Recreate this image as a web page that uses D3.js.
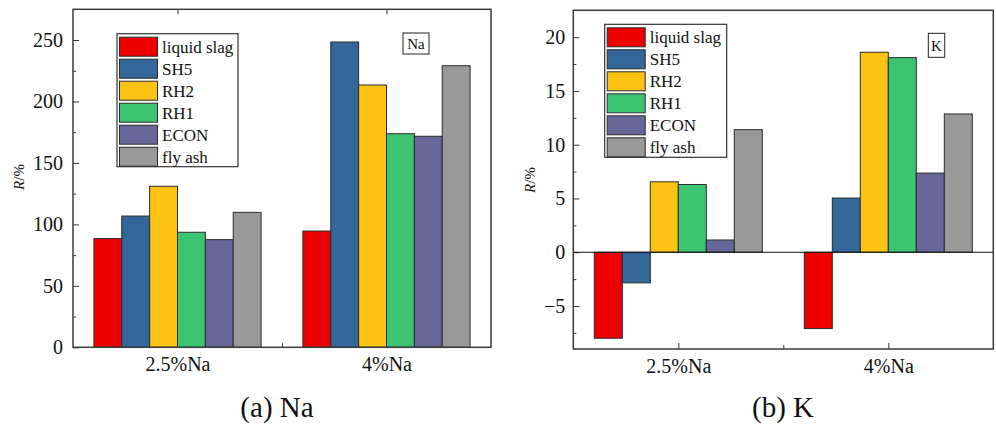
<!DOCTYPE html>
<html>
<head>
<meta charset="utf-8">
<script src="https://cdn.jsdelivr.net/npm/d3@7"></script>
<style>
  body { margin: 0; background: #fff; }
  svg { display: block; }
</style>
</head>
<body>
<div id="chart"></div>
<script>
// data
var categories = ["2.5%Na", "4%Na"];
var seriesNames = ["liquid slag", "SH5", "RH2", "RH1", "ECON", "fly ash"];
var seriesColors = ["#ee0000", "#336699", "#fdc314", "#3cc471", "#666699", "#999999"];
// one row per category, one value per series
var naValues = [
  [88.4, 106.8, 131.0, 93.6, 87.6, 109.8],
  [94.6, 248.4, 213.4, 173.8, 171.7, 229.1]
];
var kValues = [
  [-8.0, -2.85, 6.55, 6.3, 1.14, 11.4],
  [-7.1, 5.04, 18.6, 18.1, 7.36, 12.86]
];
var naTicks = [0, 50, 100, 150, 200, 250];
var naMinor = [25, 75, 125, 175, 225];
var kTicks = [-5, 0, 5, 10, 15, 20];
var kMinor = [-7.5, -2.5, 2.5, 7.5, 12.5, 17.5];

var w = 996, h = 428;
var FONT = "Liberation Serif";

var svg = d3.select("#chart")
  .append("svg")
  .attr("width", w)
  .attr("height", h)
  .attr("font-family", FONT);

svg.append("rect").attr("width", w).attr("height", h).attr("fill", "#fff");

function drawPanel(p) {
  var g = svg.append("g");

  var xScale = d3.scaleLinear()
    .domain([0.5, categories.length + 0.5])
    .range([p.left, p.right]);
  var yScale = d3.scaleLinear()
    .domain(p.yDomain)
    .range([p.bottom, p.top]);

  var barW = 0.8 / seriesNames.length;

  // left axis
  var yAxis = d3.axisLeft(yScale)
    .tickValues(p.ticks)
    .tickSizeInner(-6)
    .tickSizeOuter(0)
    .tickPadding(p.tickPad);
  var ya = g.append("g")
    .attr("transform", "translate(" + p.left + ",0)")
    .call(yAxis)
    .attr("font-family", FONT);
  ya.select(".domain").remove();
  ya.selectAll("text").attr("font-size", 20).attr("fill", "#111")
    .attr("font-family", FONT);
  ya.selectAll("line").attr("stroke", "#333");

  var yMinor = g.append("g")
    .attr("transform", "translate(" + p.left + ",0)")
    .call(d3.axisLeft(yScale).tickValues(p.minor).tickSizeInner(-3).tickSizeOuter(0).tickFormat(""));
  yMinor.select(".domain").remove();
  yMinor.selectAll("line").attr("stroke", "#333");

  // bottom axis
  var xAxis = d3.axisBottom(xScale)
    .tickValues(d3.range(1, categories.length + 1))
    .tickFormat(function(d) { return categories[d - 1]; })
    .tickSizeInner(-6)
    .tickSizeOuter(0)
    .tickPadding(10);
  var xa = g.append("g")
    .attr("transform", "translate(0," + p.bottom + ")")
    .call(xAxis)
    .attr("font-family", FONT);
  xa.select(".domain").remove();
  xa.selectAll("text").attr("font-size", 20).attr("fill", "#111")
    .attr("font-family", FONT);
  xa.selectAll("line").attr("stroke", "#333");

  var xMinor = g.append("g")
    .attr("transform", "translate(0," + p.bottom + ")")
    .call(d3.axisBottom(xScale).tickValues([1.5]).tickSizeInner(-4).tickSizeOuter(0).tickFormat(""));
  xMinor.select(".domain").remove();
  xMinor.selectAll("line").attr("stroke", "#333");

  if (p.topTicks) {
    var xt = g.append("g")
      .attr("transform", "translate(0," + p.top + ")")
      .call(d3.axisTop(xScale).tickValues(d3.range(1, categories.length + 1)).tickSizeInner(-5).tickSizeOuter(0).tickFormat(""));
    xt.select(".domain").remove();
    xt.selectAll("line").attr("stroke", "#333");
  }

  // bars
  p.values.forEach(function(row, ci) {
    g.selectAll("rect.c" + ci)
      .data(row)
      .enter()
      .append("rect")
      .attr("class", "c" + ci)
      .attr("x", function(d, i) { return xScale(ci + 1 - 0.4 + i * barW); })
      .attr("width", function() { return xScale(barW) - xScale(0); })
      .attr("y", function(d) { return yScale(Math.max(0, d)); })
      .attr("height", function(d) { return Math.abs(yScale(d) - yScale(0)); })
      .attr("fill", function(d, i) { return seriesColors[i]; })
      .attr("stroke", "#2b2b2b")
      .attr("stroke-width", 1);
  });

  if (p.zeroLine) {
    g.append("line")
      .attr("x1", p.left).attr("x2", p.right)
      .attr("y1", yScale(0)).attr("y2", yScale(0))
      .attr("stroke", "#111").attr("stroke-width", 1.2);
  }

  // frame
  g.append("rect")
    .attr("x", p.left).attr("y", p.top)
    .attr("width", p.right - p.left).attr("height", p.bottom - p.top)
    .attr("fill", "none")
    .attr("stroke", "#3a3a3a")
    .attr("stroke-width", 1.5);

  // y title
  var yt = g.append("text")
    .attr("transform", "translate(" + p.yTitleX + "," + p.yTitleY + ") rotate(-90)")
    .attr("text-anchor", "middle")
    .attr("dy", "0.35em")
    .attr("font-size", 15)
    .attr("font-family", FONT)
    .attr("fill", "#111");
  yt.append("tspan").attr("font-style", "italic").text("R");
  yt.append("tspan").text("/%");

  // legend
  var lg = g.append("g");
  lg.append("rect")
    .attr("x", p.legX).attr("y", p.legY)
    .attr("width", p.legW).attr("height", 133)
    .attr("fill", "#fff")
    .attr("stroke", "#333")
    .attr("stroke-width", 1.2);
  seriesNames.forEach(function(name, i) {
    lg.append("rect")
      .attr("x", p.legX + 2.5).attr("y", p.legY + 3.5 + i * 22)
      .attr("width", 38).attr("height", 19)
      .attr("fill", seriesColors[i])
      .attr("stroke", "#2b2b2b")
      .attr("stroke-width", 1);
    lg.append("text")
      .attr("x", p.legX + 45).attr("y", p.legY + 19 + i * 22)
      .attr("font-size", 17)
      .attr("font-family", FONT)
      .attr("fill", "#111")
      .text(name);
  });

  // element tag
  g.append("rect")
    .attr("x", p.tagX).attr("y", p.tagY)
    .attr("width", p.tagW).attr("height", p.tagH)
    .attr("fill", "#fff").attr("stroke", "#222").attr("stroke-width", 1);
  g.append("text")
    .attr("x", p.tagX + p.tagW / 2).attr("y", p.tagY + p.tagH / 2)
    .attr("dy", "0.35em")
    .attr("text-anchor", "middle")
    .attr("font-size", 15)
    .attr("font-family", FONT)
    .attr("fill", "#111")
    .text(p.tag);

  // caption
  svg.append("text")
    .attr("x", p.capX).attr("y", 417)
    .attr("text-anchor", "middle")
    .attr("font-size", 29)
    .attr("font-family", FONT)
    .attr("fill", "#111")
    .text(p.caption);
}

drawPanel({
  left: 73, right: 491, top: 9.3, bottom: 347.3,
  yDomain: [0, 275], ticks: naTicks, minor: naMinor, tickPad: 10,
  values: naValues, topTicks: true, zeroLine: false,
  yTitleX: 19, yTitleY: 177,
  legX: 117, legY: 33.7, legW: 121,
  tag: "Na", tagX: 403, tagY: 33, tagW: 26, tagH: 21,
  caption: "(a) Na", capX: 277
});

drawPanel({
  left: 573.3, right: 993.3, top: 10.3, bottom: 349,
  yDomain: [-9, 22.5], ticks: kTicks, minor: kMinor, tickPad: 8,
  values: kValues, topTicks: false, zeroLine: true,
  yTitleX: 530, yTitleY: 180,
  legX: 604.7, legY: 24.3, legW: 122,
  tag: "K", tagX: 928.3, tagY: 33.3, tagW: 16.4, tagH: 24,
  caption: "(b) K", capX: 783
});
</script>
</body>
</html>
